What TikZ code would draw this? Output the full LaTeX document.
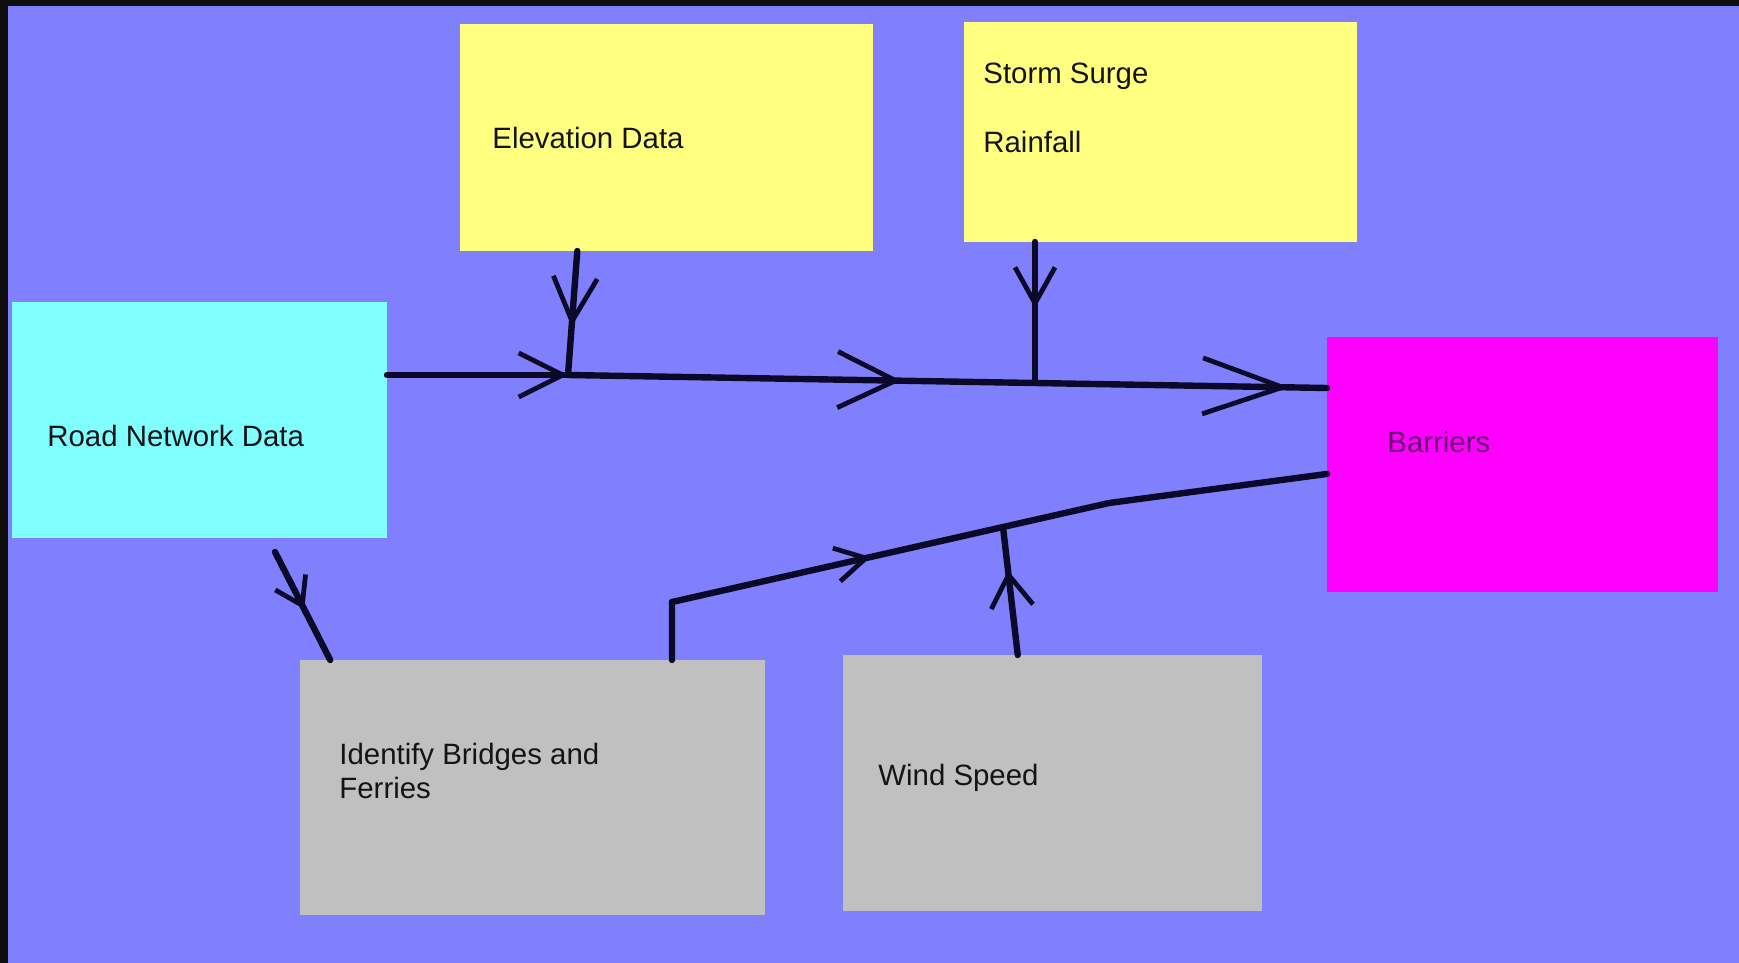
\documentclass[tikz,border=0pt]{standalone}
\usepackage{fontspec}
\setmainfont{Liberation Sans}
\usetikzlibrary{arrows.meta,decorations.markings,fit,calc}
\definecolor{bgblue}{RGB}{128,128,255}
\definecolor{frame}{RGB}{14,14,14}
\definecolor{yel}{RGB}{255,255,128}
\definecolor{cyn}{RGB}{128,255,255}
\definecolor{mag}{RGB}{255,0,255}
\definecolor{gry}{RGB}{192,192,192}
\definecolor{ink}{RGB}{10,10,40}
\definecolor{txtc}{RGB}{20,20,24}
\definecolor{bartxt}{RGB}{100,0,110}
\tikzset{
  box/.style={draw=none, inner sep=0pt, outer sep=0pt},
  txt/.style={font=\fontsize{14.7pt}{17pt}\selectfont, anchor=base west, inner sep=0pt, text=txtc},
  conn/.style={line width=3.2pt, draw=ink, line cap=round, line join=round},
  tipat/.style args={#1 with #2}{postaction={decorate, decoration={markings,
     mark=at position #1 with {\arrow[ink]{Straight Barb[#2, line width=2.4pt]}}}}},
}
\begin{document}
\begin{tikzpicture}[x=0.5pt, y=-0.5pt]
\useasboundingbox (0,0) rectangle (1739,963);
\fill[frame] (0,0) rectangle (1739,963);
\fill[bgblue] (8,6) rectangle (1739,963);

% boxes
\node[box, fill=yel, fit={(460,24) (873,251)}] (elev) {};
\node[box, fill=yel, fit={(964,22) (1357,242)}] (storm) {};
\node[box, fill=cyn, fit={(12,302) (387,538)}] (road) {};
\node[box, fill=mag, fit={(1327,337) (1718,592)}] (barriers) {};
\node[box, fill=gry, fit={(300,660) (765,915)}] (bridges) {};
\node[box, fill=gry, fit={(843,655) (1262,911)}] (wind) {};

% texts
\node[txt] (telev) at (492,148.5) {Elevation Data};
\node[txt] (tstorm) at (983,83.5) {Storm Surge};
\node[txt] (train) at (983,152.5) {Rainfall};
\node[txt] (troad) at (47,446.5) {Road Network Data};
\node[txt, text=bartxt] (tbar) at (1387,452.5) {Barriers};
\node[txt, anchor=north west, align=left] (tbridge) at (339,743) {Identify Bridges and\\Ferries};
\node[txt] (twind) at (878,785.5) {Wind Speed};

% junctions
\coordinate (j1) at (568,375);
\coordinate (j2) at (1035,383);
\coordinate (j3) at (1003,527);
\coordinate (c1) at (672,602);
\coordinate (c2) at (1109,503);
\coordinate (rb0) at (275,552);

% main line
\draw[conn, tipat={1 with {length=22pt, width=22pt}}] (j1 -| road.east) -- (j1);
\draw[conn, tipat={0.439 with {length=29pt, width=28pt}}, tipat={0.951 with {length=40pt, width=28pt}}]
  (j1) -- ($(barriers.north west)!0.2!(barriers.south west)$);
% elevation
\draw[conn, tipat={0.61 with {length=22pt, width=22pt}}]
  ($(elev.south west)!0.284!(elev.south east)$) -- (j1);
% storm
\draw[conn, tipat={0.47 with {length=18pt, width=20pt}}] (storm.south -| j2) -- (j2);
% road to bridges
\draw[conn, tipat={0.53 with {length=13pt, width=17pt}}]
  (rb0) -- ($(bridges.north west)!0.065!(bridges.north east)$);
% bridges to barriers
\draw[conn] ($(bridges.north west)!0.8!(bridges.north east)$) -- (c1);
\draw[conn, tipat={0.6 with {length=15pt, width=17pt}}] (c1) -- (j3);
\draw[conn] (j3) -- (c2) -- ($(barriers.north west)!0.537!(barriers.south west)$);
% wind
\draw[conn, tipat={0.66 with {length=16pt, width=21pt}}]
  ($(wind.north west)!0.417!(wind.north east)$) -- (j3);
\end{tikzpicture}
\end{document}
